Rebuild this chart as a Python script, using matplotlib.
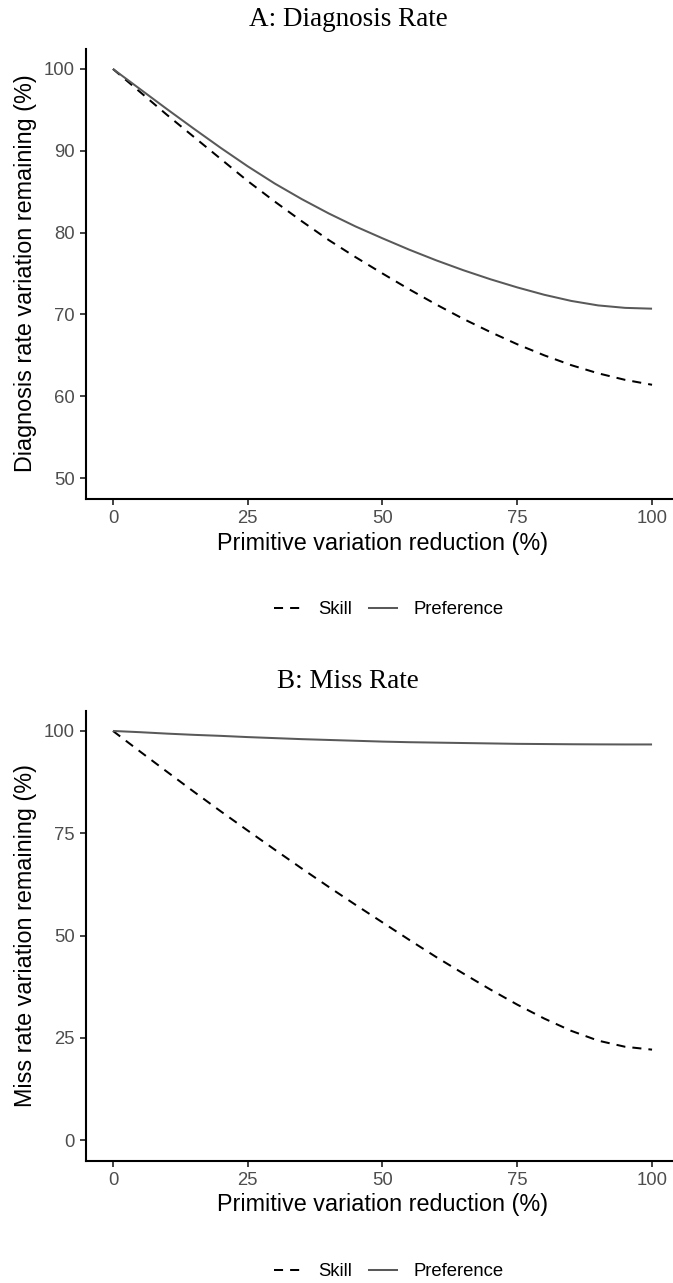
import matplotlib
matplotlib.use("Agg")
import matplotlib.pyplot as plt
from matplotlib.lines import Line2D

# primitive variation reduction (%)
reduction = [0, 5, 10, 15, 20, 25, 30, 35, 40, 45, 50,
             55, 60, 65, 70, 75, 80, 85, 90, 95, 100]

# panel A: diagnosis rate variation remaining (%)
diag_skill = [100, 97.2, 94.4, 91.7, 89.0, 86.3, 83.8, 81.4, 79.1, 77.0, 75.0,
              73.05, 71.2, 69.45, 67.85, 66.35, 65.0, 63.8, 62.8, 62.0, 61.4]
diag_pref = [100, 97.55, 95.1, 92.7, 90.35, 88.1, 86.0, 84.1, 82.35, 80.75, 79.3,
             77.9, 76.6, 75.4, 74.3, 73.3, 72.4, 71.65, 71.1, 70.8, 70.7]

# panel B: miss rate variation remaining (%)
miss_skill = [100, 95.0, 90.05, 85.15, 80.35, 75.65, 71.0, 66.4, 61.9, 57.5, 53.2,
              48.9, 44.7, 40.7, 36.8, 33.1, 29.7, 26.7, 24.3, 22.8, 22.1]
miss_pref = [100, 99.7, 99.35, 99.05, 98.8, 98.5, 98.25, 98.0, 97.8, 97.6, 97.4,
             97.25, 97.15, 97.05, 96.95, 96.85, 96.8, 96.75, 96.72, 96.7, 96.7]

x_ticks = [0, 25, 50, 75, 100]
diag_yticks = [50, 60, 70, 80, 90, 100]
miss_yticks = [0, 25, 50, 75, 100]

series_labels = ["Skill", "Preference"]
titles = ["A: Diagnosis Rate", "B: Miss Rate"]
ylabels = ["Diagnosis rate variation remaining (%)", "Miss rate variation remaining (%)"]
xlabel = "Primitive variation reduction (%)"

W, H = 673, 1283
DPI = 100
SANS = ["Liberation Sans", "DejaVu Sans"]
SERIF = ["Liberation Serif", "DejaVu Serif"]
PREF_COL = "#595959"
DASH = (0, (4.5, 3.5))
LW = 1.45

fig = plt.figure(figsize=(W / DPI, H / DPI), dpi=DPI)
fig.patch.set_facecolor("white")


def px(x, y):
    # pixel coords (from top-left) -> figure fraction
    return x / W, 1 - y / H


def draw_panel(top, skill, pref, yticks, ylim, title, ylabel):
    left, right = 86, 679
    height = 450
    ax = fig.add_axes([left / W, 1 - (top + height) / H, (right - left) / W, height / H])
    ax.plot(reduction, skill, color="black", lw=LW, linestyle=DASH, dash_capstyle="butt")
    ax.plot(reduction, pref, color=PREF_COL, lw=LW, solid_capstyle="butt")
    ax.set_xlim(-5, 105)
    ax.set_ylim(*ylim)
    ax.set_xticks(x_ticks)
    ax.set_yticks(yticks)
    for s in ["top", "right"]:
        ax.spines[s].set_visible(False)
    for s in ["left", "bottom"]:
        ax.spines[s].set_linewidth(1.5)
        ax.spines[s].set_color("black")
    ax.tick_params(length=4, width=1.3, color="#333333", labelcolor="#4d4d4d",
                   labelsize=13.3, pad=4)
    for lab in ax.get_xticklabels() + ax.get_yticklabels():
        lab.set_family(SANS)
    ax.set_xlabel(xlabel, fontsize=16.8, family=SANS, color="black")
    ax.set_ylabel(ylabel, fontsize=16.8, family=SANS, color="black")
    ax.xaxis.set_label_coords(0.5, -33 / height)
    ax.yaxis.set_label_coords((37 - left) / (right - left), 0.5)

    # panel title
    tx, ty = px(348, top - 22.5)
    fig.text(tx, ty, title, ha="center", va="baseline", fontsize=19.5, family=SERIF)

    # legend below the panel
    handles = [Line2D([], [], color="black", lw=LW, linestyle=DASH),
               Line2D([], [], color=PREF_COL, lw=LW)]
    lx, ly = px(389, top + 561.5)
    fig.legend(handles, series_labels, loc="center", bbox_to_anchor=(lx, ly), ncol=2,
               frameon=False, prop={"family": SANS, "size": 13.3},
               handlelength=1.5, handletextpad=0.9, columnspacing=0.9)
    return ax


draw_panel(48.5, diag_skill, diag_pref, diag_yticks, (47.5, 102.5), titles[0], ylabels[0])
draw_panel(710.5, miss_skill, miss_pref, miss_yticks, (-5, 105), titles[1], ylabels[1])

fig.savefig("out.png", dpi=DPI)
